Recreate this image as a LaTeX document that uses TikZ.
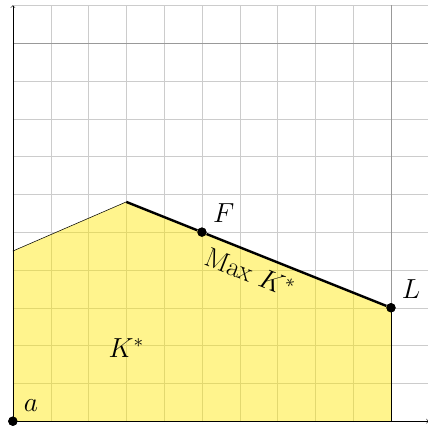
\documentclass[tikz,border=0pt]{standalone}
\begin{document}
\begin{tikzpicture}[
  gridline/.style={very thin, gray!40},
  refline/.style={thin, gray!80},
  axis/.style={->, thin},
  pt/.style={circle, fill=black, inner sep=0pt, minimum size=7pt},
  lbl/.style={font=\huge}
]
\useasboundingbox (-0.34,-0.16) rectangle (10.98,11.14);
\draw[gridline] (0,0) grid (11,11);
\draw[refline] (0,10) -- (11,10);
\draw[refline] (10,0) -- (10,11);
\coordinate (O) at (0,0);
\coordinate (P1) at (0,4.5);
\coordinate (P2) at (3,5.8);
\coordinate (P3) at (10,0);
\node[pt] (a) at (0,0) {};
\node[pt] (F) at (5,5) {};
\node[pt] (L) at (10,3) {};
\fill[yellow!90!orange, fill opacity=0.45] (O) -- (P1) -- (P2) -- (L.center) -- (P3) -- cycle;
\draw[thin] (P1) -- (P2);
\draw[thin] (L.center) -- (P3);
\draw[line width=1.8pt] (P2) -- (F) -- (L);
\draw[axis] (O) -- (11,0);
\draw[axis] (O) -- (0,11);
\node[pt] at (0,0) {};
\node[pt] at (5,5) {};
\node[pt] at (10,3) {};
\node[lbl] (la) at (0.48,0.42) {$a$};
\node[lbl] (lF) at (5.58,5.5) {$F$};
\node[lbl] (lL) at (10.53,3.49) {$L$};
\node[lbl] (lK) at (3.0,1.93) {$K^{*}$};
\node[lbl, rotate=-21.8] (lM) at (6.27,3.92) {Max $K^{*}$};
\end{tikzpicture}
\end{document}
